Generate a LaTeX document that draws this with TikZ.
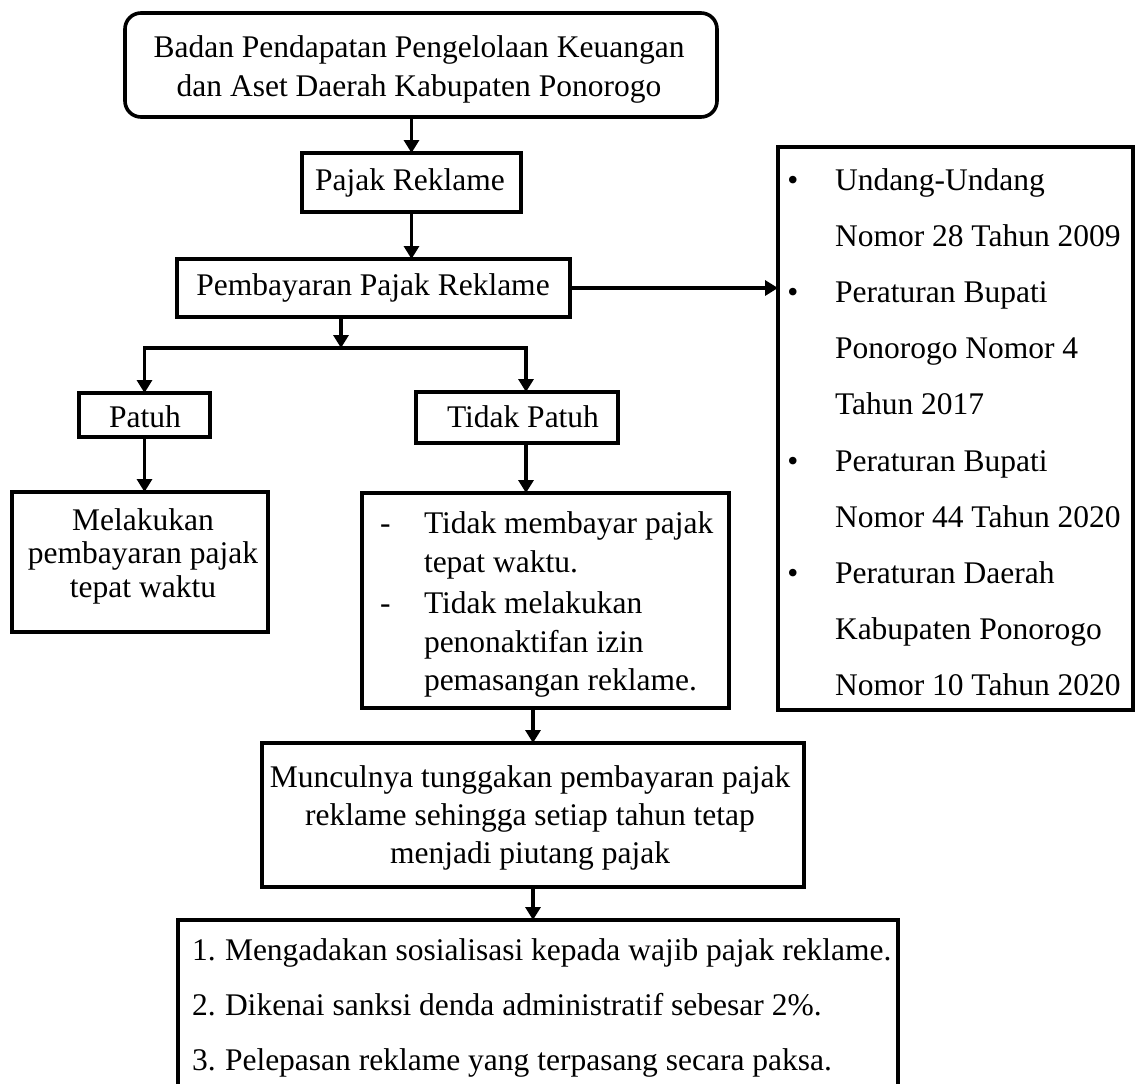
\documentclass[tikz,border=0pt]{standalone}
\usepackage{fontspec}
\setmainfont{Liberation Serif}
\usetikzlibrary{arrows.meta}
\begin{document}
\begin{tikzpicture}[x=1pt,y=-1pt,
  font=\fontsize{31.5pt}{38pt}\selectfont,
  box/.style={draw, line width=3.6pt, inner sep=0pt, outer sep=0pt, line join=miter},
  txt/.style={inner sep=0pt, outer sep=0pt, anchor=base},
  txtl/.style={inner sep=0pt, outer sep=0pt, anchor=base west},
  arr/.style={line width=3.4pt, -{Triangle[width=15pt,length=13pt]}},
  plainline/.style={line width=3.4pt}]
\useasboundingbox (0,0) rectangle (1136,1084);

% boxes
\node[box, rounded corners=16pt, minimum width=592pt, minimum height=104pt] (top) at (421,65) {};
\node[box, minimum width=219pt, minimum height=59pt] (pajak) at (411.5,182.5) {};
\node[box, minimum width=393pt, minimum height=58pt] (pem) at (373.5,288) {};
\node[box, minimum width=355pt, minimum height=563pt] (right) at (955.5,428.5) {};
\node[box, minimum width=131pt, minimum height=44pt] (patuh) at (144.5,415) {};
\node[box, minimum width=202pt, minimum height=51pt] (tp) at (517,417.5) {};
\node[box, minimum width=256pt, minimum height=140pt] (mel) at (140,562) {};
\node[box, minimum width=367pt, minimum height=215pt] (tm) at (545.5,600.5) {};
\node[box, minimum width=542pt, minimum height=144pt] (mun) at (533,815) {};
\node[box, minimum width=720pt, minimum height=166pt] (bot) at (538,1003) {};

% texts
\node[txt] (t1) at (419,57) {Badan Pendapatan Pengelolaan Keuangan};
\node[txt] (t2) at (419,96) {dan Aset Daerah Kabupaten Ponorogo};
\node[txt] (t3) at (410,190) {Pajak Reklame};
\node[txt] (t4) at (373,295) {Pembayaran Pajak Reklame};
\node[txt] (t5) at (145,427) {Patuh};
\node[txt] (t6) at (523,427) {Tidak Patuh};
\node[txt] (m1) at (143,530) {Melakukan};
\node[txt] (m2) at (143,563.5) {pembayaran pajak};
\node[txt] (m3) at (143,597) {tepat waktu};

\node[txtl] (d1) at (380,533) {-};
\node[txtl] (d2) at (380,613) {-};
\node[txtl] (n1) at (424,533) {Tidak membayar pajak};
\node[txtl] (n2) at (424,572) {tepat waktu.};
\node[txtl] (n3) at (424,613) {Tidak melakukan};
\node[txtl] (n4) at (424,652) {penonaktifan izin};
\node[txtl] (n5) at (424,690) {pemasangan reklame.};

\node[txt] (u1) at (530,787) {Munculnya tunggakan pembayaran pajak};
\node[txt] (u2) at (530,825) {reklame sehingga setiap tahun tetap};
\node[txt] (u3) at (530,863) {menjadi piutang pajak};

\node[txtl] (k1) at (192,960) {1.};
\node[txtl] (k2) at (192,1015) {2.};
\node[txtl] (k3) at (192,1070) {3.};
\node[txtl] (l1) at (225,960) {Mengadakan sosialisasi kepada wajib pajak reklame.};
\node[txtl] (l2) at (225,1015) {Dikenai sanksi denda administratif sebesar 2\%.};
\node[txtl] (l3) at (225,1070) {Pelepasan reklame yang terpasang secara paksa.};

\foreach \y/\nm in {190/b1, 302.4/b2, 471/b3, 583.4/b4}
  \node[txt] (\nm) at (793,\y) {\textbullet};
\foreach \s [count=\i] in {Undang-Undang, Nomor 28 Tahun 2009, Peraturan Bupati,
    Ponorogo Nomor 4, Tahun 2017, Peraturan Bupati, Nomor 44 Tahun 2020,
    Peraturan Daerah, Kabupaten Ponorogo, Nomor 10 Tahun 2020}
  \node[txtl] (r\i) at (835,{190+56.2*(\i-1)}) {\s};

% connectors
\coordinate (j) at (341,348);
\coordinate (jr) at (526,348);
\draw[arr] (pajak.north |- top.south) -- (pajak.north);
\draw[arr] (pajak.south) -- (pajak.south |- pem.north);
\draw[arr] (pem.east) -- (pem.east -| right.west);
\draw[arr] (j |- pem.south) -- (j);
\draw[arr] (j) -| (patuh.north);
\draw[arr] (j) -| (jr |- tp.north);
\draw[arr] (patuh.south) -- (patuh.south |- mel.north);
\draw[arr] (jr |- tp.south) -- (jr |- tm.north);
\draw[arr] (mun.north |- tm.south) -- (mun.north);
\draw[arr] (mun.south) -- (mun.south |- bot.north);
\end{tikzpicture}
\end{document}
